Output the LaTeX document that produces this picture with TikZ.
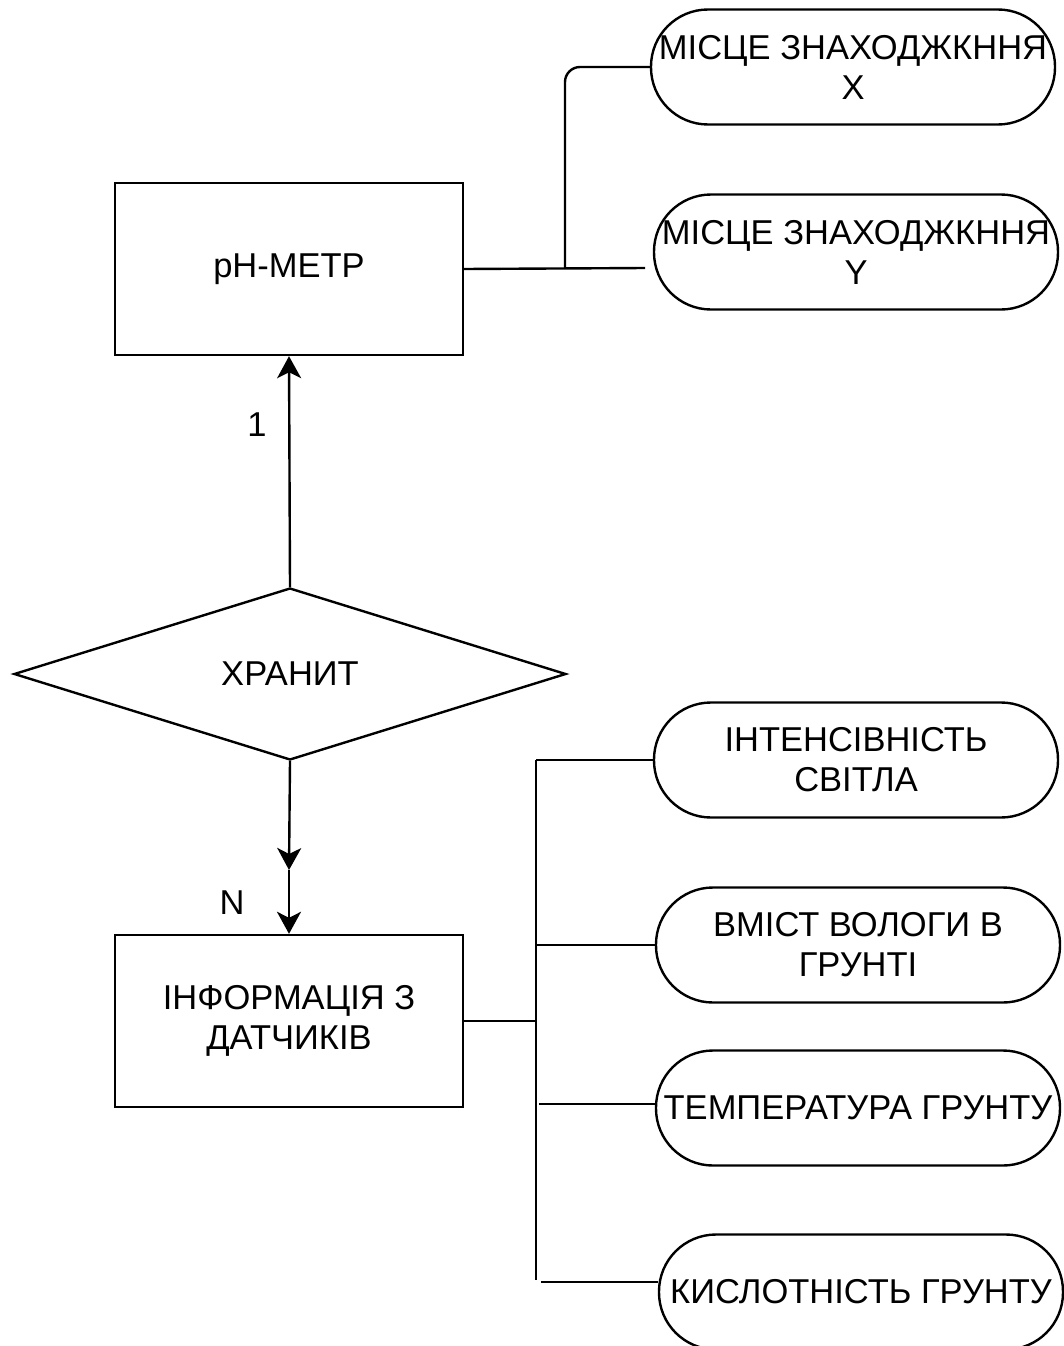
\documentclass[tikz,border=0pt]{standalone}
\usepackage{fontspec}
\setmainfont{Liberation Sans}
\usetikzlibrary{shapes.geometric,arrows.meta}
\begin{document}
\begin{tikzpicture}[x=1pt,y=-1pt,line width=2.4pt,
  every node/.style={font=\fontsize{34.5}{40}\selectfont},
  box/.style={draw,rectangle,minimum width=348pt,minimum height=172pt,align=center,inner sep=0pt},
  stad/.style={draw,rectangle,rounded corners=57pt,minimum width=404pt,minimum height=115pt,align=center,inner sep=0pt},
  arr/.style={-{Stealth[length=22pt,width=24pt,inset=6pt]}},
  lbl/.style={inner sep=0pt}]
\useasboundingbox (0,0) rectangle (1064,1346);
\begin{scope}
\clip (0,0) rectangle (1064,1346);
\node[box] (ph) at (289,269) {pH-МЕТР};
\node[draw,diamond,aspect=3.2,minimum width=552pt,minimum height=172pt,inner sep=0pt] (dia) at (290,674) {ХРАНИТ};
\node[box] (info) at (289,1021) {ІНФОРМАЦІЯ З\\ДАТЧИКІВ};
\node[stad] (lx) at (853,67) {МІСЦЕ ЗНАХОДЖКННЯ\\X};
\node[stad] (ly) at (856,252) {МІСЦЕ ЗНАХОДЖКННЯ\\Y};
\node[stad] (li) at (856,760) {ІНТЕНСІВНІСТЬ\\СВІТЛА};
\node[stad] (lv) at (858,945) {ВМІСТ ВОЛОГИ В\\ГРУНТІ};
\node[stad] (lt) at (858,1108) {ТЕМПЕРАТУРА ГРУНТУ};
\node[stad] (lk) at (861,1292) {КИСЛОТНІСТЬ ГРУНТУ};

\coordinate (j1) at (565,268);
\coordinate (ey) at (645,268);
\draw (ph.east) -- (ey);
\draw[rounded corners=15pt] (j1) |- (lx.west);

\draw[arr] (dia.north) -- (ph.south);
\node[lbl] (one) at (257,425) {1};
\coordinate (m) at (289,870);
\draw[arr] (dia.south) -- (m);
\draw[arr] (m) -- (info.north);
\node[lbl] (n) at (232,903) {N};

\coordinate (j2) at (536,1021);
\coordinate (bt) at (536,760);
\coordinate (bb) at (536,1280);
\draw (info.east) -- (j2);
\draw (bt) -- (bb);
\draw (bt) -- (li.west);
\draw (536,945) coordinate (c2) -- (lv.west);
\draw (539,1104) coordinate (c3) -- (lt.west |- c3);
\draw (541,1282) coordinate (c4) -- (lk.west |- c4);
\end{scope}
\end{tikzpicture}
\end{document}
